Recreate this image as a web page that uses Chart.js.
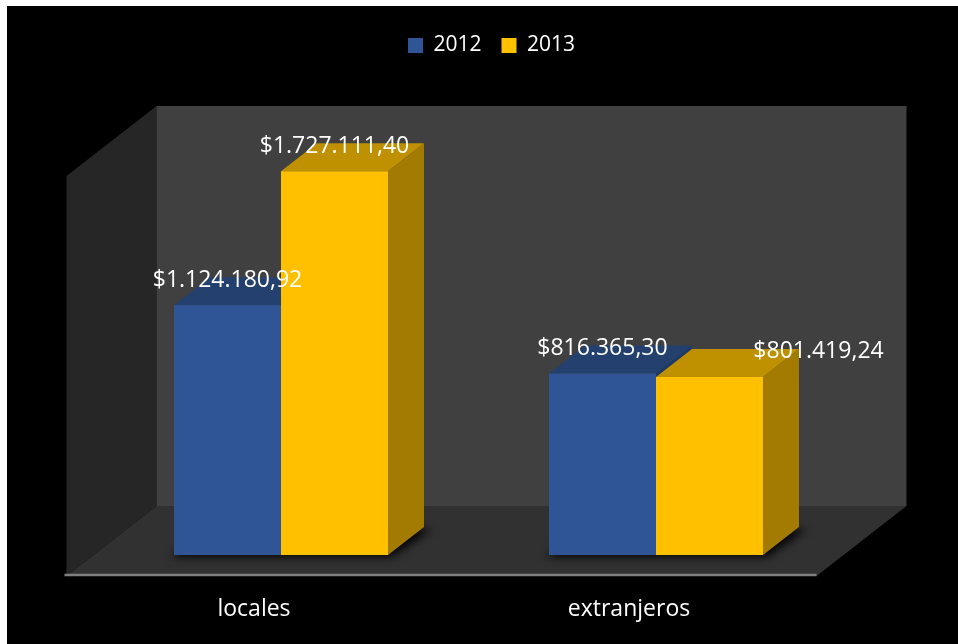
<!DOCTYPE html>
<html>
<head>
<meta charset="utf-8">
<title>Ingresos 2012 - 2013</title>
<script src="https://cdn.jsdelivr.net/npm/chart.js@4.4.1/dist/chart.umd.min.js"></script>
<style>
  html, body { margin: 0; padding: 0; background: #ffffff; overflow: hidden; }
  #c { position: absolute; left: 0; top: 0; }
</style>
</head>
<body>
<canvas id="c" width="958" height="644"></canvas>
<script>
// ---- data ----
const categories = ['locales', 'extranjeros'];
const seriesNames = ['2012', '2013'];
const values2012 = [1124180.92, 816365.30];
const values2013 = [1727111.40, 801419.24];
const axisMax = 1800000;

// ---- look ----
const frontColors = ['#2F5597', '#FFC000'];
const topColors   = ['#24406F', '#BF9000'];
const sideColors  = ['#1F3864', '#A37B00'];
const backWallColor = '#404040';
const sideWallColor = '#262626';
const floorColor    = '#313131';
const floorEdgeColor = '#808080';
const FONT = 'Open Sans';

// depth of the floor (px) and where the bar fronts sit inside it
const DEPTH = { dx: 90, dy: -70 };
const FRONT_FRAC = 0.3;   // part of the depth in front of the bars
const BAR_FRAC = 0.4;     // bar thickness as part of the depth

// sideways nudge for value labels that would collide [series][category]
const labelNudgeX = [[0, 0], [0, 109]];

function fmtMoney(v) {
  const parts = v.toFixed(2).split('.');
  return '$' + parts[0].replace(/\B(?=(\d{3})+(?!\d))/g, '.') + ',' + parts[1];
}

function poly(ctx, pts, color) {
  ctx.beginPath();
  ctx.moveTo(pts[0][0], pts[0][1]);
  for (let i = 1; i < pts.length; i++) ctx.lineTo(pts[i][0], pts[i][1]);
  ctx.closePath();
  ctx.fillStyle = color;
  ctx.fill();
}

// black card behind everything
const backdrop = {
  id: 'backdrop',
  beforeDraw(chart) {
    const ctx = chart.ctx;
    ctx.save();
    ctx.fillStyle = '#000000';
    ctx.fillRect(7, 6, chart.width - 7, chart.height - 6);
    ctx.restore();
  }
};

// walls, floor, shadows and the depth faces of the bars
const room = {
  id: 'room',
  beforeDatasetsDraw(chart) {
    const { ctx, chartArea: a, scales: { y } } = chart;
    const top = y.getPixelForValue(axisMax);
    const base = y.getPixelForValue(0);
    const fx = -FRONT_FRAC * DEPTH.dx, fy = -FRONT_FRAC * DEPTH.dy;
    const bx = (1 - FRONT_FRAC) * DEPTH.dx, by = (1 - FRONT_FRAC) * DEPTH.dy;
    const ddx = BAR_FRAC * DEPTH.dx, ddy = BAR_FRAC * DEPTH.dy;

    ctx.save();
    // left wall
    poly(ctx, [[a.left + fx, top + fy], [a.left + bx, top + by],
               [a.left + bx, base + by], [a.left + fx, base + fy]], sideWallColor);
    // back wall
    poly(ctx, [[a.left + bx, top + by], [a.right + bx, top + by],
               [a.right + bx, base + by], [a.left + bx, base + by]], backWallColor);
    // floor
    poly(ctx, [[a.left + fx, base + fy], [a.right + fx, base + fy],
               [a.right + bx, base + by], [a.left + bx, base + by]], floorColor);
    // floor front edge
    ctx.beginPath();
    ctx.moveTo(a.left + fx - 2, base + fy - 1);
    ctx.lineTo(a.right + fx, base + fy - 1);
    ctx.lineWidth = 2.5;
    ctx.strokeStyle = floorEdgeColor;
    ctx.stroke();

    const metas = chart.data.datasets.map((_, d) => chart.getDatasetMeta(d));

    // soft shadows under each group of bars
    ctx.save();
    ctx.filter = 'blur(4px)';
    categories.forEach((_, i) => {
      const bars = metas.map(m => m.data[i]);
      const l = Math.min(...bars.map(b => b.x - b.width / 2)) - 3;
      const r = Math.max(...bars.map(b => b.x + b.width / 2)) + 4;
      const b0 = bars[0].base + 2;
      poly(ctx, [[l, b0], [r, b0], [r + ddx + 4, b0 + ddy], [l + ddx, b0 + ddy]], 'rgba(0,0,0,0.9)');
    });
    ctx.restore();

    // side and top faces, painted left to right so nearer faces cover
    categories.forEach((_, i) => {
      metas.forEach((m, d) => {
        const el = m.data[i];
        const l = el.x - el.width / 2, r = el.x + el.width / 2;
        const t = el.y, b = el.base;
        poly(ctx, [[r, t], [r + ddx, t + ddy], [r + ddx, b + ddy], [r, b]], sideColors[d]);
        poly(ctx, [[l, t], [r, t], [r + ddx, t + ddy], [l + ddx, t + ddy]], topColors[d]);
      });
    });
    ctx.restore();
  }
};

// value labels above the bars
const valueLabels = {
  id: 'valueLabels',
  afterDatasetsDraw(chart) {
    const ctx = chart.ctx;
    ctx.save();
    ctx.font = '23px "' + FONT + '"';
    ctx.fillStyle = '#FFFFFF';
    ctx.textAlign = 'center';
    ctx.textBaseline = 'middle';
    chart.data.datasets.forEach((ds, d) => {
      chart.getDatasetMeta(d).data.forEach((el, i) => {
        ctx.fillText(fmtMoney(ds.data[i]), el.x + labelNudgeX[d][i], el.y - 25);
      });
    });
    ctx.restore();
  }
};

Chart.defaults.font.family = FONT;

new Chart(document.getElementById('c'), {
  type: 'bar',
  data: {
    labels: categories,
    datasets: [
      { label: seriesNames[0], data: values2012, backgroundColor: frontColors[0], borderWidth: 0,
        categoryPercentage: 0.5707, barPercentage: 1.0 },
      { label: seriesNames[1], data: values2013, backgroundColor: frontColors[1], borderWidth: 0,
        categoryPercentage: 0.5707, barPercentage: 1.0 }
    ]
  },
  options: {
    responsive: false,
    devicePixelRatio: 1,
    animation: false,
    events: [],
    layout: { padding: { top: 15, left: 93.5, right: 68.5, bottom: 0 } },
    plugins: {
      legend: {
        position: 'top',
        labels: {
          color: '#FFFFFF',
          boxWidth: 15,
          boxHeight: 15,
          padding: 20,
          font: { family: FONT, size: 21 }
        }
      },
      // empty band between the legend and the plot
      subtitle: {
        display: true,
        text: '',
        weight: 500,
        padding: 0,
        font: { size: 89, lineHeight: 1 }
      },
      tooltip: { enabled: false }
    },
    scales: {
      x: {
        offset: true,
        grid: { display: false, drawTicks: false },
        border: { display: false },
        ticks: {
          color: '#FFFFFF',
          font: { family: FONT, size: 23 },
          padding: 41,
          labelOffset: -FRONT_FRAC * DEPTH.dx
        },
        afterFit(scale) { scale.height = 89; }
      },
      y: {
        position: 'right',
        min: 0,
        max: axisMax,
        grid: { display: false, drawTicks: false },
        border: { display: false },
        ticks: { display: false },
        afterFit(scale) { scale.width = 46; }
      }
    }
  },
  plugins: [backdrop, room, valueLabels]
});
</script>
</body>
</html>
